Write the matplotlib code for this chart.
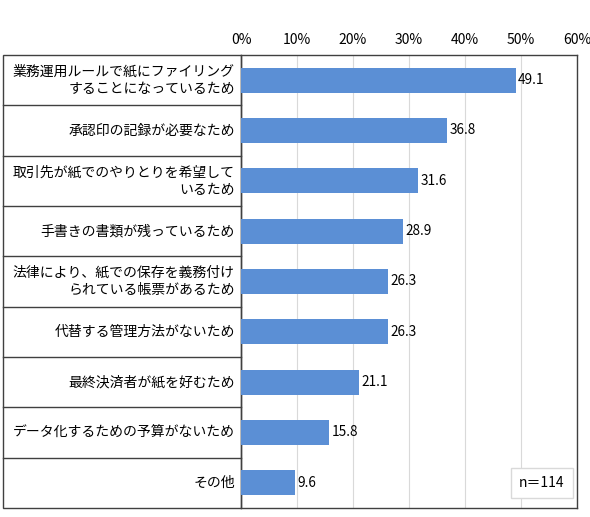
import matplotlib
matplotlib.use("Agg")
import matplotlib.pyplot as plt
from matplotlib.patches import Rectangle

plt.rcParams["font.family"] = ["Noto Sans CJK JP", "DejaVu Sans"]

CATEGORIES = [
    "業務運用ルールで紙にファイリング\nすることになっているため",
    "承認印の記録が必要なため",
    "取引先が紙でのやりとりを希望して\nいるため",
    "手書きの書類が残っているため",
    "法律により、紙での保存を義務付け\nられている帳票があるため",
    "代替する管理方法がないため",
    "最終決済者が紙を好むため",
    "データ化するための予算がないため",
    "その他",
]
VALUES = [49.1, 36.8, 31.6, 28.9, 26.3, 26.3, 21.1, 15.8, 9.6]
XTICKS = [0, 10, 20, 30, 40, 50, 60]
N_LABEL = "n＝114"

BAR_COLOR = "#5B8FD5"
BORDER = "#404040"

W, H = 590, 517
fig = plt.figure(figsize=(W / 100, H / 100), dpi=100)
ax = fig.add_axes([241 / W, 1 - 508 / H, (577 - 241) / W, (508 - 55) / H])

ys = range(len(CATEGORIES))
ax.barh(ys, VALUES, height=0.5, color=BAR_COLOR, zorder=3)
for y, v in zip(ys, VALUES):
    ax.text(v + 0.4, y, f"{v:.1f}", va="center", ha="left", fontsize=9.8, zorder=4)

ax.set_xlim(0, 60)
ax.set_ylim(len(CATEGORIES) - 0.5, -0.5)
ax.set_xticks(XTICKS)
ax.set_xticklabels([f"{t}%" for t in XTICKS], fontsize=10)
ax.xaxis.tick_top()
ax.tick_params(axis="x", length=0, pad=6)
ax.set_yticks([])
ax.grid(axis="x", color="#D9D9D9", linewidth=0.8, zorder=0)
ax.set_axisbelow(True)
for s in ax.spines.values():
    s.set_color(BORDER)
    s.set_linewidth(1.0)

# left label table
x0 = -(241 - 3) / (577 - 241)
tr = ax.get_yaxis_transform()
ax.add_patch(Rectangle((x0, -0.5), -x0, len(CATEGORIES), transform=tr,
                       fill=False, edgecolor=BORDER, linewidth=1.0, clip_on=False))
for i in range(1, len(CATEGORIES)):
    ax.plot([x0, 0], [i - 0.5, i - 0.5], transform=tr, color=BORDER,
            linewidth=1.0, clip_on=False)
for y, lab in zip(ys, CATEGORIES):
    ax.text(-0.018, y, lab, transform=tr, ha="right", va="center",
            fontsize=10, linespacing=1.3, multialignment="right")

ax.text(0.963, 0.04, N_LABEL, transform=ax.transAxes, ha="right", va="bottom",
        fontsize=10, zorder=5,
        bbox=dict(boxstyle="square,pad=0.6", facecolor="white", edgecolor="#D9D9D9"))

fig.savefig("out.png", dpi=100)
